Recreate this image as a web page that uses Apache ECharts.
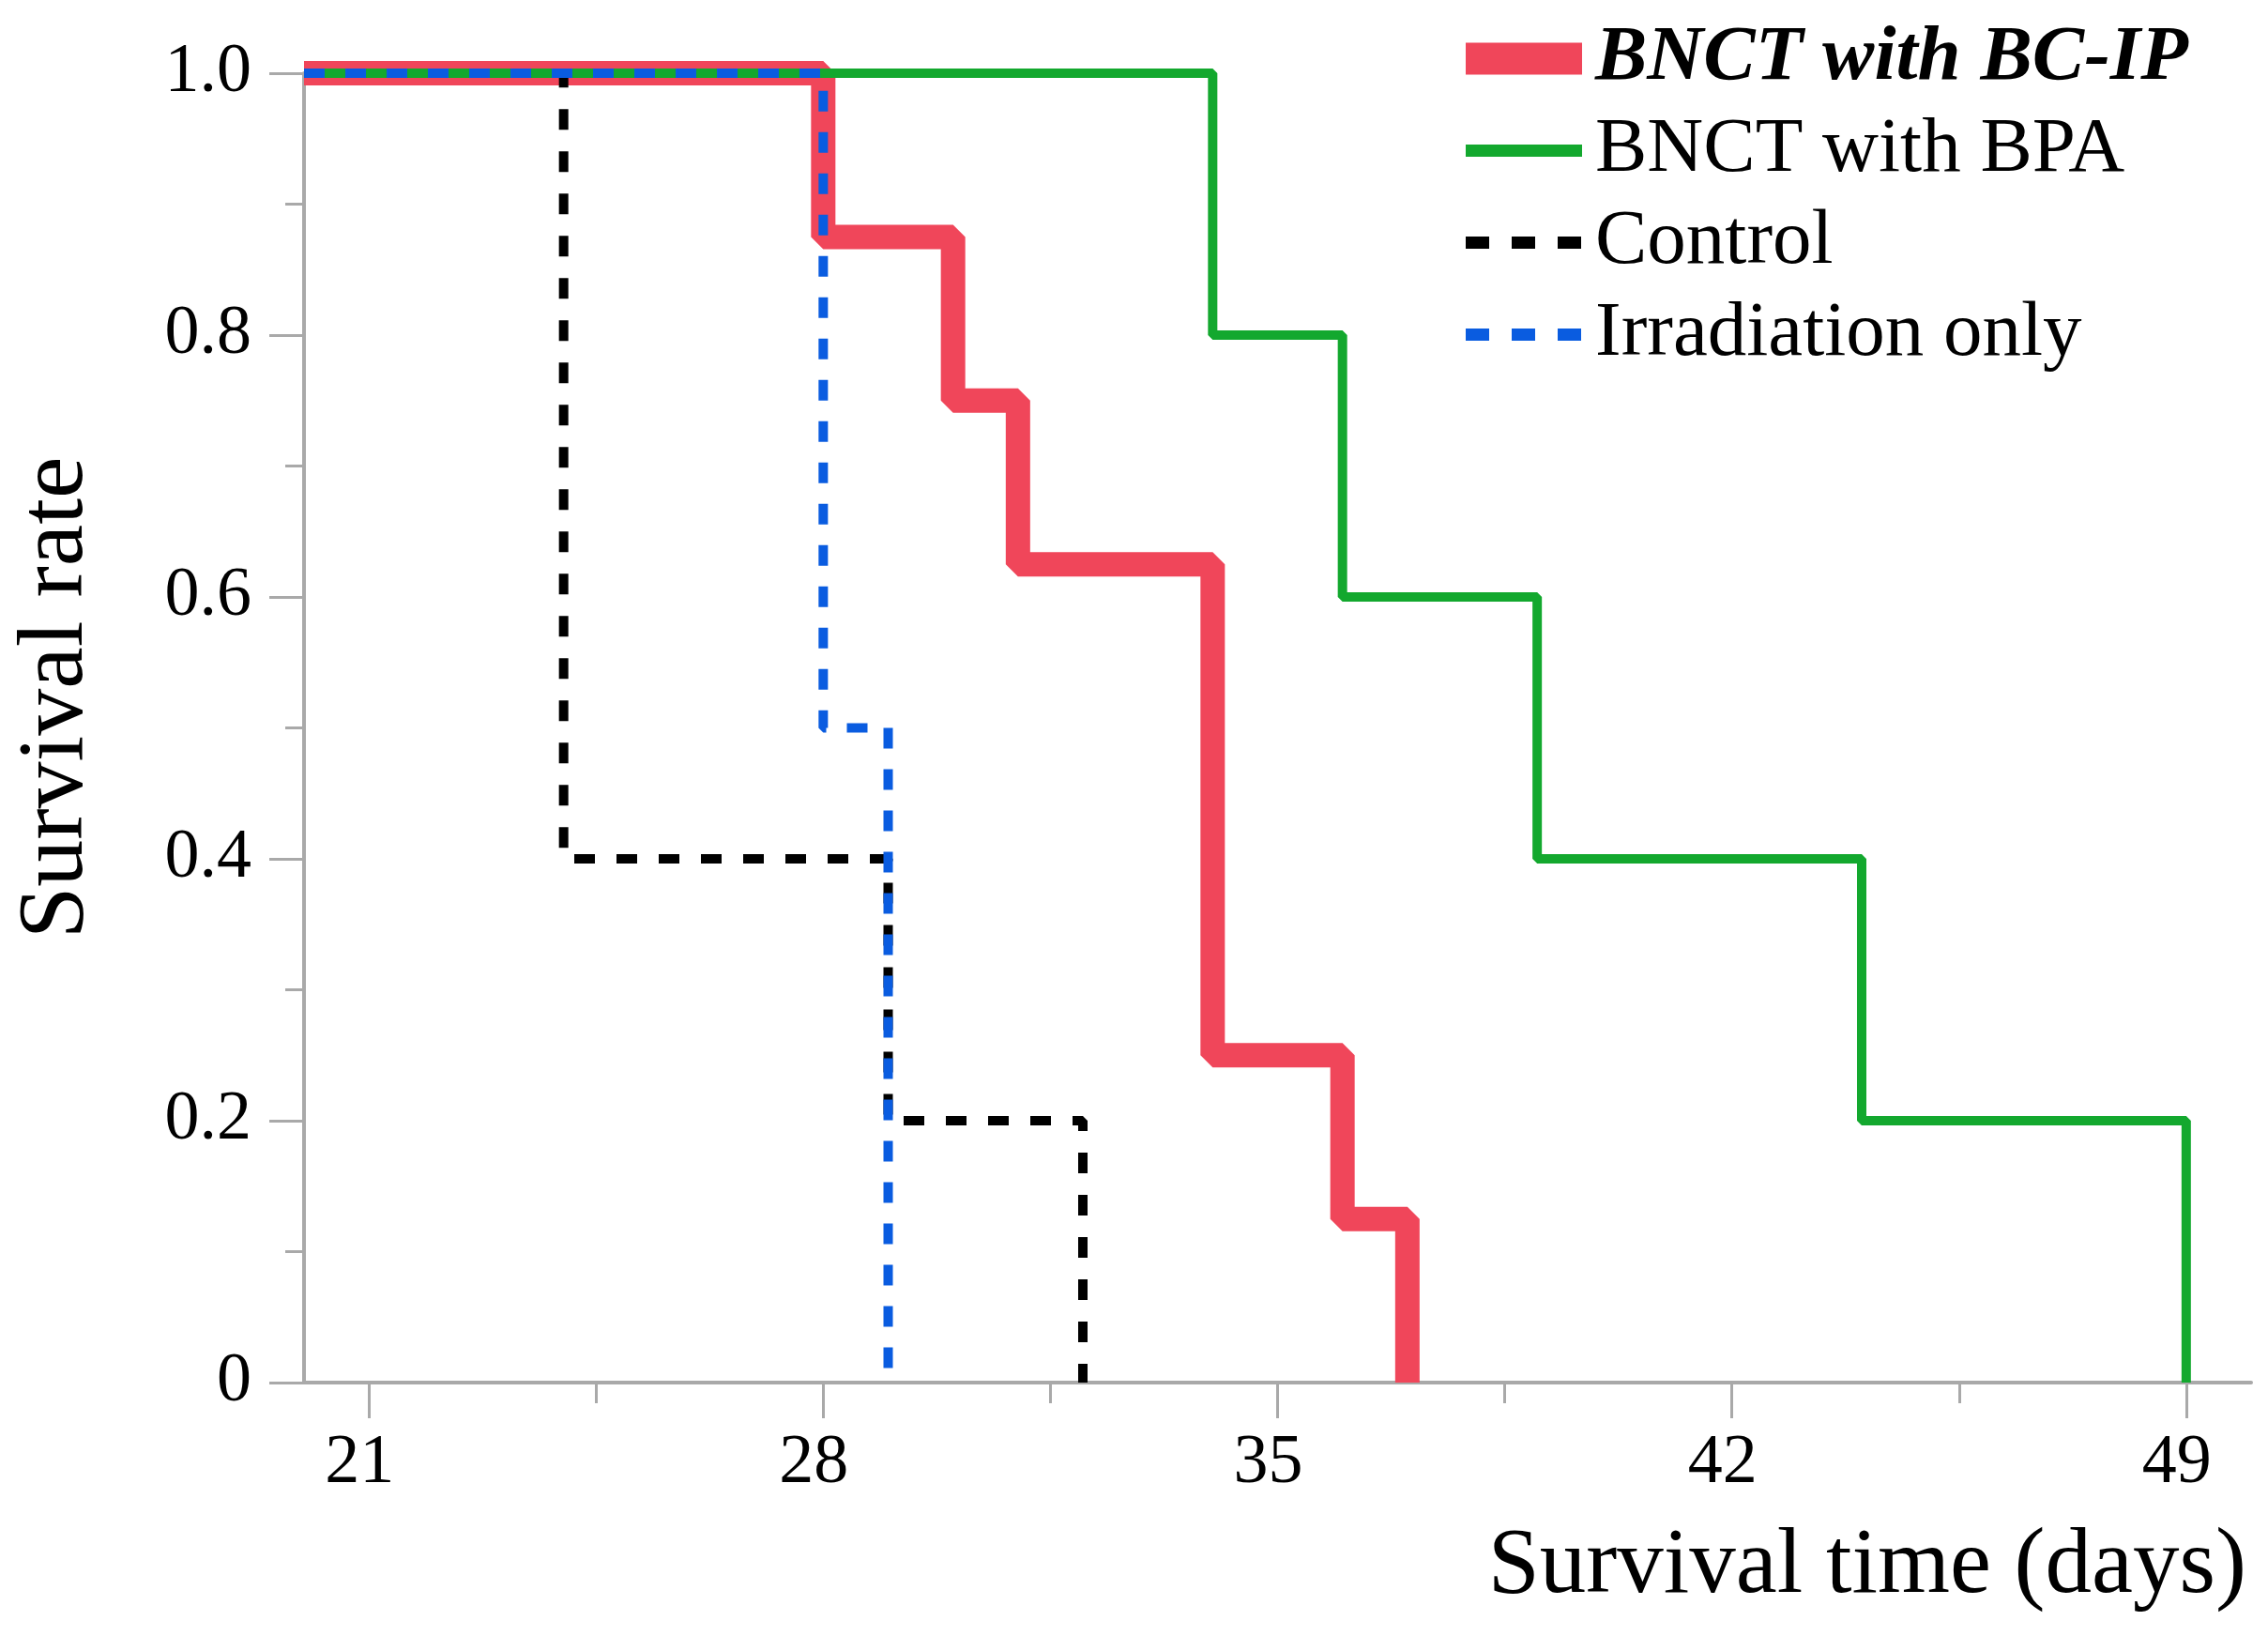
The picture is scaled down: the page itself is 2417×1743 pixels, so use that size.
<!DOCTYPE html>
<html lang="en">
<head>
  <meta charset="UTF-8">
  <title>Survival</title>
  <script src="https://cdn.jsdelivr.net/npm/echarts@6/dist/echarts.min.js"></script>
  <style>
    html, body { margin: 0; padding: 0; background: #fff; }
  </style>
</head>
<body>
  <div id="chart" style="width: 2417px; height: 1743px"></div>

  <script>
    // Kaplan-Meier steps: day of each drop and the rate after it
    const bcipDays = [20, 28, 30, 31, 34, 36, 37]
    const bcipRates = [1, 0.875, 0.75, 0.625, 0.25, 0.125, 0]
    const bpaDays = [20, 34, 36, 39, 44, 49]
    const bpaRates = [1, 0.8, 0.6, 0.4, 0.2, 0]
    const controlDays = [20, 24, 29, 32]
    const controlRates = [1, 0.4, 0.2, 0]
    const irradDays = [20, 28, 29]
    const irradRates = [1, 0.5, 0]

    const xMajorTicks = [21, 28, 35, 42, 49]
    const xMinorTicks = [24.5, 31.5, 38.5, 45.5]
    const seriesNames = ['BNCT with BC-IP', 'BNCT with BPA', 'Control', 'Irradiation only']

    const FONT = 'Liberation Serif'
    const AXIS_GRAY = '#a9a9a9'
    const RED = '#f0465a'
    const GREEN = '#13a82e'
    const BLUE = '#0a5ce0'
    const NO_SYMBOL = { color: 'rgba(0,0,0,0)', borderColor: 'rgba(0,0,0,0)', borderWidth: 0 }

    const pairs = (xs, ys) => xs.map((x, i) => [x, ys[i]])

    const myChart = echarts.init(document.getElementById('chart'))

    const option = {
      animation: false,
      grid: { left: 324, right: 18, top: 78, bottom: 270 },
      legend: {
        orient: 'vertical',
        left: 1540,
        top: 16,
        itemWidth: 124,
        itemHeight: 34,
        itemGap: 15,
        selectedMode: false,
        textStyle: { fontFamily: FONT, fontSize: 83, lineHeight: 80, color: '#000', padding: [0, 0, 0, 9] },
        data: [
          { name: seriesNames[0], itemStyle: NO_SYMBOL, lineStyle: { width: 34, type: 'solid', color: RED },
            textStyle: { fontStyle: 'italic', fontWeight: 'bold' } },
          { name: seriesNames[1], itemStyle: NO_SYMBOL, lineStyle: { width: 13, type: 'solid', color: GREEN } },
          { name: seriesNames[2], itemStyle: NO_SYMBOL, lineStyle: { width: 13, type: [25, 24], color: '#000' } },
          { name: seriesNames[3], itemStyle: NO_SYMBOL, lineStyle: { width: 13, type: [25, 24], color: BLUE } }
        ]
      },
      xAxis: [
        {
          type: 'value',
          min: 20,
          max: 50,
          position: 'bottom',
          name: 'Survival time (days)',
          nameLocation: 'end',
          nameGap: -5,
          nameMoveOverlap: false,
          nameTextStyle: { fontFamily: FONT, fontSize: 99, color: '#000', align: 'right', verticalAlign: 'top', padding: [147, 0, 0, 0] },
          axisLine: { lineStyle: { color: AXIS_GRAY, width: 4 } },
          axisTick: { customValues: xMajorTicks, length: 38, lineStyle: { color: AXIS_GRAY, width: 3 } },
          axisLabel: { customValues: xMajorTicks, margin: 50, fontFamily: FONT, fontSize: 74, color: '#000', padding: [0, 20, 0, 0] },
          splitLine: { show: false }
        },
        {
          type: 'value',
          min: 20,
          max: 50,
          position: 'bottom',
          axisLine: { show: false },
          axisTick: { customValues: xMinorTicks, length: 22, lineStyle: { color: AXIS_GRAY, width: 3 } },
          axisLabel: { show: false },
          splitLine: { show: false }
        }
      ],
      yAxis: {
        type: 'value',
        min: 0,
        max: 1,
        interval: 0.2,
        name: 'Survival rate',
        nameLocation: 'middle',
        nameGap: 213,
        nameTextStyle: { fontFamily: FONT, fontSize: 100, color: '#000', padding: [0, 0, 0, 64] },
        axisLine: { show: true, lineStyle: { color: AXIS_GRAY, width: 4 } },
        axisTick: { show: true, length: 37, lineStyle: { color: AXIS_GRAY, width: 3 } },
        minorTick: { show: true, splitNumber: 2, length: 20, lineStyle: { color: AXIS_GRAY, width: 3 } },
        axisLabel: {
          margin: 56,
          fontFamily: FONT,
          fontSize: 74,
          color: '#000',
          formatter: v => (v === 0 ? '0' : v.toFixed(1))
        },
        splitLine: { show: false },
        minorSplitLine: { show: false }
      },
      series: [
        {
          name: seriesNames[0],
          type: 'line',
          step: 'end',
          symbol: 'none',
          clip: false,
          lineStyle: { color: RED, width: 26 },
          itemStyle: { color: RED },
          data: pairs(bcipDays, bcipRates)
        },
        {
          name: seriesNames[2],
          type: 'line',
          step: 'end',
          symbol: 'none',
          clip: false,
          lineStyle: { color: '#000', width: 10, type: [22, 23] },
          itemStyle: { color: '#000' },
          data: pairs(controlDays, controlRates)
        },
        {
          name: seriesNames[1],
          type: 'line',
          step: 'end',
          symbol: 'none',
          clip: false,
          lineStyle: { color: GREEN, width: 10 },
          itemStyle: { color: GREEN },
          data: pairs(bpaDays, bpaRates)
        },
        {
          name: seriesNames[3],
          type: 'line',
          step: 'end',
          symbol: 'none',
          clip: false,
          lineStyle: { color: BLUE, width: 10, type: [22, 22] },
          itemStyle: { color: BLUE },
          data: pairs(irradDays, irradRates)
        }
      ]
    }

    myChart.setOption(option)
  </script>
</body>
</html>
